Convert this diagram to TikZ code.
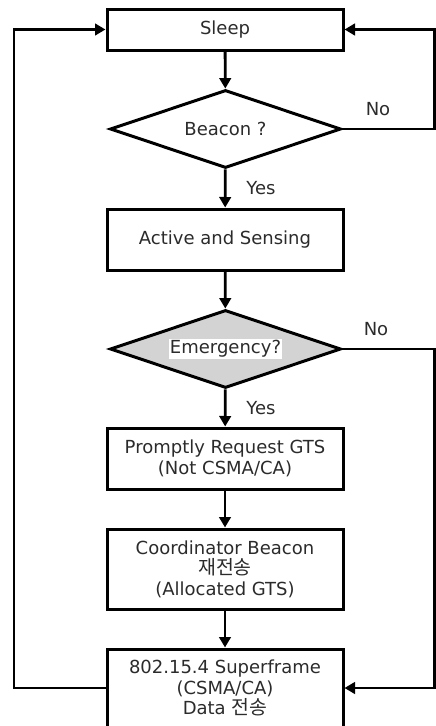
\documentclass[tikz,border=0pt]{standalone}
\usepackage{fontspec}
\setmainfont{DejaVu Sans}
\newfontfamily\krfont[Scale=1.08]{Noto Sans CJK KR}
\usetikzlibrary{shapes.geometric,arrows.meta}
\definecolor{ink}{HTML}{2B2B2B}
\definecolor{decgray}{HTML}{D3D3D3}
\tikzset{
  txt/.style={font=\fontsize{18}{20.5}\selectfont},
  proc/.style={draw=black, line width=3pt, minimum width=236pt, inner sep=0pt,
    align=center, text=ink, txt},
  decision/.style={draw=black, line width=3pt, shape=diamond, shape aspect=2.96,
    minimum width=231pt, minimum height=78pt, inner sep=0pt, text=ink, txt},
  flow/.style={line width=2.8pt, -{Triangle[length=10.5pt,width=11.5pt]}},
  lbl/.style={text=ink, txt, inner sep=0pt}
}
\begin{document}
\begin{tikzpicture}[x=1pt,y=-1pt]
\useasboundingbox (0,0) rectangle (436,726);
\clip (0,0) rectangle (436,726);

% process boxes and decisions
\node[proc, minimum height=41pt] (sleep) at (225,29.5) {Sleep};
\node[decision] (beacon) at (225.5,129) {Beacon ?};
\node[proc, minimum height=61pt] (active) at (225,239.5) {Active and Sensing};
\node[decision, fill=decgray] (emerg) at (225.5,349)
  {{\setlength{\fboxsep}{1pt}\colorbox{white}{Emergency?}}};
\node[proc, minimum height=61pt] (gts) at (225,458.5)
  {Promptly Request GTS\\(Not CSMA/CA)};
\node[proc, minimum height=80pt] (coord) at (225,569)
  {Coordinator Beacon\\{\krfont 재전송}\\(Allocated GTS)};
\node[proc, minimum height=91pt] (sframe) at (225,694.5) {};
\node[lbl, align=center] (sftext) at (225,688)
  {802.15.4 Superframe\\(CSMA/CA)\\Data {\krfont 전송}};

% turning points of the loops
\coordinate (lbot) at (14,688);
\coordinate (ltop) at (14,29.5);
\coordinate (rtop) at (434.5,29.5);
\coordinate (rbeacon) at (434.5,129);
\coordinate (remerg) at (434.5,349);
\coordinate (rbot) at (434.5,688);
\coordinate (sfw) at (sframe.west |- sftext.center);
\coordinate (sfe) at (sframe.east |- sftext.center);

% main flow
\draw[flow] (sleep) -- (beacon);
\draw[flow] (beacon) -- (active);
\draw[flow] (active) -- (emerg);
\draw[flow] (emerg) -- (gts);
\draw[flow] (gts) -- (coord);
\draw[flow] (coord) -- (sframe);

% loops
\draw[flow] (beacon.east) -- (rbeacon) -- (rtop) -- (sleep.east);
\draw[flow] (emerg.east) -- (remerg) -- (rbot) -- (sfe);
\draw[flow] (sfw) -- (lbot) -- (ltop) -- (sleep.west);

% branch labels
\node[lbl] (no1) at (378,109) {No};
\node[lbl] (no2) at (376,329) {No};
\node[lbl] (yes1) at (261,188) {Yes};
\node[lbl] (yes2) at (261,408) {Yes};
\end{tikzpicture}
\end{document}
